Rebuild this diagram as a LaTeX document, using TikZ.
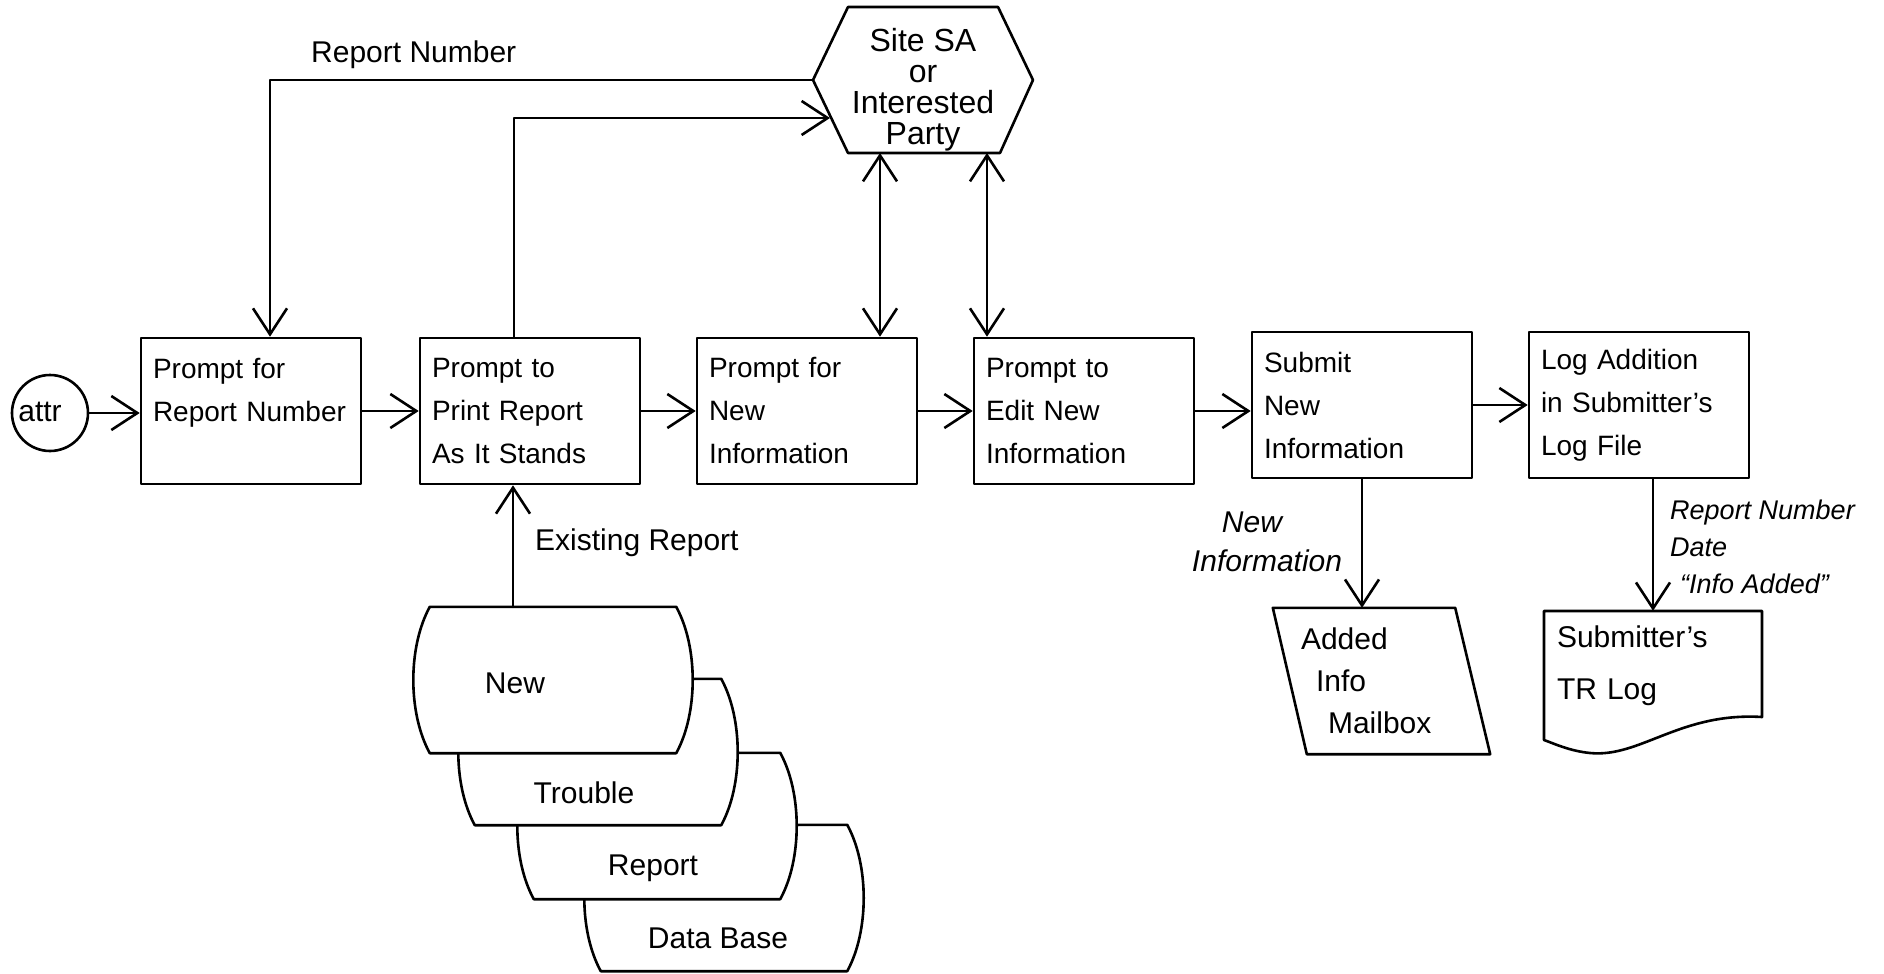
\documentclass[tikz,border=0pt]{standalone}
\usepackage{fontspec}
\setmainfont{Liberation Sans}
\usetikzlibrary{arrows.meta}

% outline of a stacked data-base drum around an (invisible) node
\newcommand\drumoutline[1]{%
  \draw[ink, fill=white] (#1.north west) -- (#1.north east)
    .. controls ([xshift=22pt,yshift=-40pt]#1.north east) and ([xshift=22pt,yshift=40pt]#1.south east) .. (#1.south east)
    -- (#1.south west)
    .. controls ([xshift=-22pt,yshift=40pt]#1.south west) and ([xshift=-22pt,yshift=-40pt]#1.north west) .. cycle;}

\begin{document}
\begin{tikzpicture}[x=1pt,y=-1pt,
  ink/.style={line width=2.6pt, line join=round, line cap=round},
  arr/.style={ink, -{Straight Barb[length=26pt,width=34pt]}},
  dbl/.style={ink, {Straight Barb[length=26pt,width=34pt]}-{Straight Barb[length=26pt,width=34pt]}},
  stepbox/.style={draw, ink, rectangle, minimum height=146pt, text width=196pt,
    inner xsep=12pt, inner ysep=0pt, align=left,
    font={\hyphenpenalty=10000\relax\fontsize{28}{43}\selectfont}},
  hand/.style={font=\fontsize{30}{36}\selectfont, inner sep=0pt},
  drumbox/.style={rectangle, minimum width=246pt, minimum height=146pt, inner sep=0pt},
]
\useasboundingbox (0,0) rectangle (1884,974);

% start symbol
\node[draw, ink, circle, minimum size=76pt, inner sep=0pt] (start) at (50,413) {};
\node[hand] (startlbl) at (40,412) {attr};

% process steps
\node[stepbox] (b1) at (251,411) {Prompt for\\\mbox{Report Number}\\\mbox{}};
\node[stepbox] (b2) at (530,411) {Prompt to\\Print Report\\As It Stands};
\node[stepbox] (b3) at (807,411) {Prompt for\\New\\Information};
\node[stepbox] (b4) at (1084,411) {Prompt to\\Edit New\\Information};
\node[stepbox] (b5) at (1362,405) {Submit\\New\\Information};
\node[stepbox] (b6) at (1639,405) {Log Addition\\in Submitter's\\Log File};

% external party (hexagon)
\node[hand, align=center, font=\fontsize{32}{31}\selectfont] (sa) at (923,90) {Site SA\\or\\Interested\\Party};
\draw[ink] (848,7) -- (998,7) -- (1033,80) -- (1000,153) -- (848,153) -- (813,80) -- cycle;
\coordinate (saL) at (813,80);
\coordinate (saLL) at (830,118);
\coordinate (saB1) at (880,153);
\coordinate (saB2) at (987,153);

% stacked data base drums, back to front
\node[drumbox] (c4) at (724,898) {};
\node[drumbox] (c3) at (657,826) {};
\node[drumbox] (c2) at (598,752) {};
\node[drumbox] (c1) at (553,680) {};
\drumoutline{c4}
\drumoutline{c3}
\drumoutline{c2}
\drumoutline{c1}
\node[hand] (tNew) at (515,683) {New};
\node[hand] (tTrouble) at (584,793) {Trouble};
\node[hand] (tReport) at (653,868) {Report};
\node[hand] (tBase) at (718,938) {Data Base};

% mailbox (parallelogram)
\node[minimum width=182pt, minimum height=146pt, text width=160pt, align=left, inner sep=0pt,
  font=\fontsize{30}{42}\selectfont] (mbox) at (1381,681) {Added\\\hspace*{15pt}Info\\\hspace*{27pt}Mailbox};
\draw[ink] ([xshift=-17pt]mbox.north west) -- ([xshift=-17pt]mbox.north east)
  -- ([xshift=18pt]mbox.south east) -- ([xshift=17pt]mbox.south west) -- cycle;

% log document
\node[minimum width=218pt, minimum height=110pt, text width=192pt, align=left, inner sep=0pt,
  font=\fontsize{30}{52}\selectfont] (trlog) at (1653,666) {Submitter's\\TR Log};
\draw[ink] (1544,611) -- (1762,611) -- (1762,717)
  .. controls (1680,712) and (1640,758) .. (1590,753)
  .. controls (1570,751) and (1555,744) .. (1544,740) -- cycle;

% flow labels
\node[hand, anchor=west] (lblRN) at (311,55) {Report Number};
\node[hand, anchor=west] (lblER) at (535,543) {Existing Report};
\node[hand, font=\itshape\fontsize{30}{39}\selectfont, align=left] (lblNI) at (1267,542) {\hspace*{30pt}New\\Information};
\node[hand, font=\itshape\fontsize{27}{37}\selectfont, align=left, anchor=west] (lblLog) at (1670,547)
  {Report Number\\Date\\\hspace*{10pt}``Info Added''};

% connectors
\draw[arr] (start.east) -- (start.east -| b1.west);
\draw[arr] (b1.east) -- (b2.west);
\draw[arr] (b2.east) -- (b3.west);
\draw[arr] (b3.east) -- (b4.west);
\draw[arr] (b4.east) -- (b4.east -| b5.west);
\draw[arr] (b5.east) -- (b6.west);
\draw[arr] (saL) -| ([xshift=19pt]b1.north);
\draw[arr] ([xshift=-16pt]b2.north) |- (saLL);
\draw[dbl] (saB1) -- (saB1 |- b3.north);
\draw[dbl] (saB2) -- (saB2 |- b4.north);
\draw[arr] ([xshift=-40pt]c1.north) -- ([xshift=-40pt]c1.north |- b2.south);
\draw[arr] (b5.south) -- (b5.south |- mbox.north);
\draw[arr] (b6.south -| trlog.north) -- (trlog.north);
\end{tikzpicture}
\end{document}
